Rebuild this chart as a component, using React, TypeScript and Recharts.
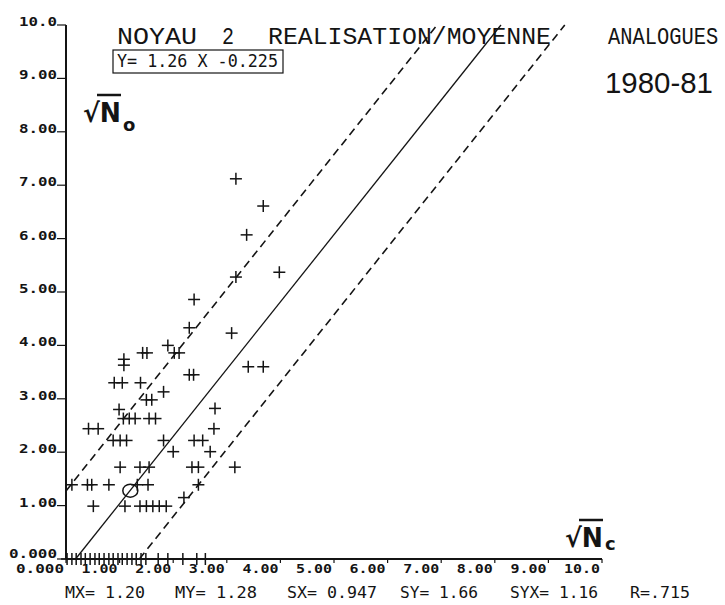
import React from 'react';
import { ScatterChart, Scatter, XAxis, YAxis, ReferenceLine } from 'recharts';

// axis ticks (same scale on both axes)
const ticks = [0, 1, 2, 3, 4, 5, 6, 7, 8, 9, 10];
const tickLabels = ['0.000', '1.00', '2.00', '3.00', '4.00', '5.00', '6.00', '7.00', '8.00', '9.00', '10.0'];

// points lying on the x axis (sqrt No = 0)
const zeroNc = [0.02, 0.11, 0.19, 0.28, 0.36, 0.45, 0.54, 0.62, 0.71, 0.8, 0.88, 0.97, 1.05, 1.14, 1.23, 1.31, 1.4, 1.49, 1.72, 1.9, 2.18, 2.44, 2.6];

// remaining observations: sqrt Nc / sqrt No
const obsNc = [
  0.51, 1.1, 1.38, 1.5, 1.62, 1.74, 1.87,
  2.2, 2.47,
  0.11, 0.4, 0.48, 0.8, 1.33, 1.53,
  1.01, 1.38, 1.55, 2.35, 2.47, 3.15,
  2.0, 2.69,
  0.88, 1.01, 1.13, 1.82, 2.39, 2.55,
  0.42, 0.6, 2.76,
  1.07, 1.18, 1.29, 1.55, 1.67,
  0.99, 2.78,
  1.5, 1.6,
  1.82,
  0.9, 1.05, 1.39,
  2.3, 2.38,
  3.4, 3.68,
  1.08, 1.08,
  1.43, 1.51, 2.02, 2.11,
  1.9, 3.09, 2.3, 2.39, 3.17, 3.98, 3.37, 3.68, 3.17,
];
const obsNo = [
  0.99, 0.99, 0.99, 0.99, 0.99, 0.99, 0.99,
  1.15, 1.39,
  1.39, 1.39, 1.39, 1.39, 1.39, 1.39,
  1.72, 1.72, 1.72, 1.72, 1.72, 1.72,
  2.01, 2.01,
  2.22, 2.22, 2.22, 2.22, 2.22, 2.22,
  2.44, 2.44, 2.44,
  2.63, 2.63, 2.63, 2.63, 2.63,
  2.8, 2.82,
  2.98, 2.98,
  3.13,
  3.3, 3.3, 3.3,
  3.45, 3.45,
  3.6, 3.6,
  3.63, 3.74,
  3.86, 3.86, 3.86, 3.86,
  4.0, 4.23, 4.33, 4.86, 5.28, 5.37, 6.07, 6.61, 7.12,
];

const meanPoint = [{ x: 1.2, y: 1.28 }];

// regression Y = 1.26 X - 0.225, dashed band +/- 1.5
const SLOPE = 1.26;
const INTERCEPT = -0.225;
const BAND = 1.5;

const INK = '#141414';

const points = [
  ...zeroNc.map((x) => ({ x, y: 0 })),
  ...obsNc.map((x, i) => ({ x, y: obsNo[i] })),
];

const xAt = (y: number, off: number) => (y - INTERCEPT - off) / SLOPE;
const fitSeg = [{ x: xAt(0, 0), y: 0 }, { x: xAt(10, 0), y: 10 }];
const upperSeg = [{ x: 0, y: INTERCEPT + BAND }, { x: xAt(10, BAND), y: 10 }];
const lowerSeg = [{ x: xAt(0, -BAND), y: 0 }, { x: xAt(10, -BAND), y: 10 }];

const Cross = (props: any) => {
  const { cx, cy } = props;
  return (
    <g stroke={INK} strokeWidth={1.5}>
      <line x1={cx - 6} x2={cx + 6} y1={cy} y2={cy} />
      <line x1={cx} x2={cx} y1={cy - 6} y2={cy + 6} />
    </g>
  );
};

const MeanMark = (props: any) => (
  <ellipse cx={props.cx} cy={props.cy} rx={7.5} ry={6.5} fill="none" stroke={INK} strokeWidth={1.5} />
);

const labelWidth = (s: string) => (s.length === 5 ? 48 : 38);

const YTick = (props: any) => {
  const { x, y, payload } = props;
  const label = tickLabels[ticks.indexOf(payload.value)];
  return (
    <g>
      <line x1={x - 9} x2={x} y1={y} y2={y} stroke={INK} strokeWidth={1.2} />
      <text x={x - 9 - labelWidth(label)} y={payload.value === 0 ? y - 1 : y + 1} fontFamily="DejaVu Sans Mono"
        fontWeight="bold" fontSize={13} fill={INK} textLength={labelWidth(label)} lengthAdjust="spacingAndGlyphs">
        {label}
      </text>
    </g>
  );
};

const XTick = (props: any) => {
  const { x, y, payload } = props;
  const label = tickLabels[ticks.indexOf(payload.value)];
  const w = label.length === 5 ? 48 : 36;
  return (
    <g>
      <line x1={x} x2={x} y1={y} y2={y + 4} stroke={INK} strokeWidth={1.2} />
      <text x={x - 2 - w} y={y + 14} fontFamily="DejaVu Sans Mono" fontWeight="bold" fontSize={13}
        fill={INK} textLength={w} lengthAdjust="spacingAndGlyphs">
        {label}
      </text>
    </g>
  );
};

const stats = [
  { t: 'MX= 1.20', x: 65, w: 80 },
  { t: 'MY= 1.28', x: 175, w: 82 },
  { t: 'SX= 0.947', x: 287, w: 90 },
  { t: 'SY= 1.66', x: 400, w: 78 },
  { t: 'SYX= 1.16', x: 510, w: 88 },
  { t: 'R=.715', x: 630, w: 60 },
];

const title = [
  { t: 'NOYAU', x: 117, w: 80 },
  { t: '2', x: 222, w: 12 },
  { t: 'REALISATION/MOYENNE', x: 268, w: 283 },
];

export default function App() {
  return (
    <div style={{ position: 'absolute', left: 0, top: 0, width: 725, height: 605, background: '#fff' }}>
      <ScatterChart width={725} height={605} margin={{ top: 25, right: 123, bottom: 0, left: 0 }}>
        <XAxis
          type="number"
          dataKey="x"
          domain={[0, 10]}
          ticks={ticks}
          height={46}
          tickSize={0}
          tickMargin={0}
          tick={<XTick />}
          axisLine={{ stroke: INK, strokeWidth: 2 }}
          tickLine={false}
        />
        <YAxis
          type="number"
          dataKey="y"
          domain={[0, 10]}
          ticks={ticks}
          width={66}
          tickSize={0}
          tickMargin={0}
          tick={<YTick />}
          axisLine={{ stroke: INK, strokeWidth: 2 }}
          tickLine={false}
        />
        <ReferenceLine segment={fitSeg} stroke={INK} strokeWidth={1.3} ifOverflow="visible" />
        <ReferenceLine segment={upperSeg} stroke={INK} strokeWidth={1.6} strokeDasharray="8 5" ifOverflow="visible" />
        <ReferenceLine segment={lowerSeg} stroke={INK} strokeWidth={1.6} strokeDasharray="8 5" ifOverflow="visible" />
        <Scatter data={points} shape={<Cross />} isAnimationActive={false} />
        <Scatter data={meanPoint} shape={<MeanMark />} isAnimationActive={false} />
      </ScatterChart>

      <svg
        width={725}
        height={605}
        style={{ position: 'absolute', left: 0, top: 0, pointerEvents: 'none' }}
      >
        {title.map((s) => (
          <text key={s.t} x={s.x} y={44} fontFamily="Liberation Mono" fontSize={24} fill={INK}
            textLength={s.w} lengthAdjust="spacingAndGlyphs">
            {s.t}
          </text>
        ))}
        <text transform="translate(608,44) scale(0.85,1)" fontFamily="Liberation Mono" fontSize={24} fill={INK}>
          ANALOGUES
        </text>
        <rect x={113} y={50} width={170} height={23} fill="#fff" stroke={INK} strokeWidth={1.2} />
        <text x={117} y={67} fontFamily="DejaVu Sans Mono" fontSize={17} fill={INK} textLength={161} lengthAdjust="spacingAndGlyphs">
          Y= 1.26 X -0.225
        </text>
        <text x={605} y={93} fontFamily="Liberation Sans" fontSize={30} fill={INK} textLength={108} lengthAdjust="spacingAndGlyphs">
          1980-81
        </text>

        {/* hand written axis names */}
        <text x={83} y={122} fontFamily="DejaVu Sans" fontWeight="bold" fontSize={26} fill={INK}
          textLength={38} lengthAdjust="spacingAndGlyphs">√N</text>
        <line x1={97} x2={121} y1={95} y2={95} stroke={INK} strokeWidth={2.5} />
        <text x={123} y={131} fontFamily="DejaVu Sans" fontWeight="bold" fontSize={18} fill={INK}>o</text>

        <text x={565} y={547} fontFamily="DejaVu Sans" fontWeight="bold" fontSize={26} fill={INK}
          textLength={38} lengthAdjust="spacingAndGlyphs">√N</text>
        <line x1={579} x2={603} y1={520} y2={520} stroke={INK} strokeWidth={2.5} />
        <text x={605} y={550} fontFamily="DejaVu Sans" fontWeight="bold" fontSize={18} fill={INK}>c</text>

        {stats.map((s) => (
          <text key={s.t} x={s.x} y={598} fontFamily="DejaVu Sans Mono" fontSize={15} fill={INK}
            textLength={s.w} lengthAdjust="spacingAndGlyphs">
            {s.t}
          </text>
        ))}
      </svg>
    </div>
  );
}
